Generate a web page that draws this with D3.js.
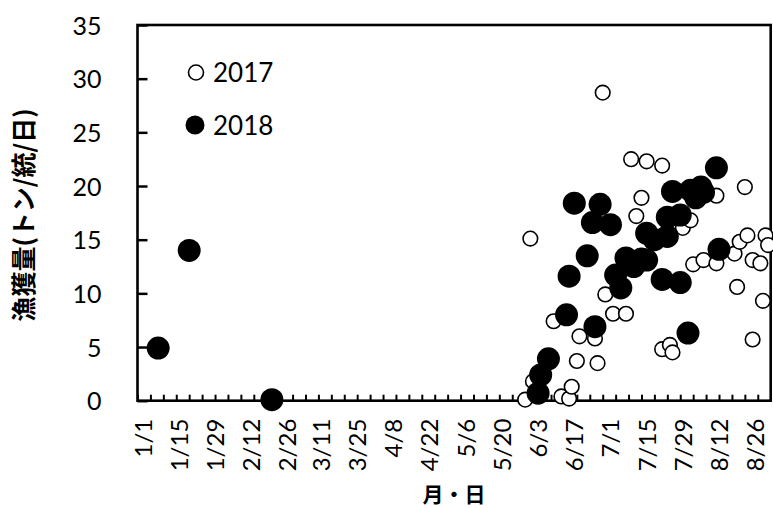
<!DOCTYPE html>
<html>
<head>
	<meta charset="utf-8">
	<title></title>
	<script src="https://d3js.org/d3.v7.min.js"></script>
	<style>
		body { margin: 0; background: #fff; }
		svg { display: block; }
		.tick text { font-family: Lato, "Noto Sans", sans-serif; fill: #000; }
		.axis .domain { display: none; }
	</style>
</head>
<body>
	<svg width="773" height="508"></svg>
<script type="text/javascript">

// 2017 catches (open circles), month/day and tonnes per unit per day
var dates2017 = ["5/29","5/31","6/1","6/9","6/12","6/15","6/16","6/18","6/19","6/25","6/26","6/28","6/29","7/2","7/7","7/9","7/11","7/13","7/15","7/21","7/21","7/24","7/25","7/29","8/1","8/2","8/6","8/11","8/11","8/18","8/19","8/20","8/22","8/23","8/25","8/25","8/28","8/29","8/30","8/31"];
var catch2017 = [0.1,15.1,1.8,7.4,0.4,0.2,1.3,3.7,6.0,5.8,3.5,28.7,9.9,8.1,8.1,22.5,17.2,18.9,22.3,21.9,4.8,5.2,4.5,16.1,16.8,12.7,13.1,19.1,12.8,13.7,10.6,14.8,19.9,15.4,13.1,5.7,12.8,9.3,15.4,14.5];

// 2018 catches (filled circles)
var dates2018 = ["1/7","1/19","2/20","6/3","6/4","6/7","6/14","6/15","6/17","6/22","6/24","6/25","6/27","7/1","7/3","7/5","7/7","7/10","7/13","7/15","7/15","7/18","7/21","7/23","7/23","7/25","7/28","7/28","7/31","8/1","8/3","8/5","8/6","8/11","8/12"];
var catch2018 = [4.9,14.0,0.1,0.7,2.4,3.9,8.0,11.6,18.4,13.5,16.6,6.9,18.3,16.4,11.7,10.5,13.3,12.5,13.2,13.1,15.6,15.0,11.3,15.3,17.1,19.5,11.0,17.3,6.3,19.6,18.9,19.9,19.4,21.7,14.1];

var tickLabels = ["1/1","1/15","1/29","2/12","2/26","3/11","3/25","4/8","4/22","5/6","5/20","6/3","6/17","7/1","7/15","7/29","8/12","8/26"];
var yTicks = [0,5,10,15,20,25,30,35];
var seriesNames = ["2017", "2018"];

function md(s) {
	var p = s.split("/");
	return new Date(Date.UTC(2018, +p[0] - 1, +p[1]));
}

var svg = d3.select("svg");
const margin = {left: 137.5, right: 770.7, top: 25, bottom: 400.7};

var x = d3.scaleUtc()
	.domain([new Date(Date.UTC(2017, 11, 30)), new Date(Date.UTC(2018, 8, 1))])
	.range([margin.left, margin.right]);
var y = d3.scaleLinear()
	.domain([0, 35])
	.range([margin.bottom, margin.top]);

// minor ticks every 5 days, pointing inside
var minor = d3.utcDay.range(x.domain()[0], x.domain()[1], 1).filter(function(d, i) { return i % 5 == 0; });
svg.append("g")
	.attr("class", "axis")
	.attr("transform", "translate(0," + margin.bottom + ")")
	.call(d3.axisBottom(x).tickValues(minor).tickSize(-6).tickFormat(""))
	.selectAll("line").attr("stroke", "#000").attr("stroke-width", 2);

// date labels every 14 days, rotated
var xLab = svg.append("g")
	.attr("class", "axis")
	.attr("transform", "translate(0," + (margin.bottom + 18) + ")")
	.call(d3.axisBottom(x).tickValues(tickLabels.map(md)).tickSize(0)
		.tickFormat(function(d, i) { return tickLabels[i]; }));
xLab.selectAll("text")
	.attr("font-size", 24)
	.attr("transform", "rotate(-90)")
	.attr("text-anchor", "end")
	.attr("x", 0)
	.attr("y", 0)
	.attr("dy", "0.35em");

var yAxis = svg.append("g")
	.attr("class", "axis")
	.attr("transform", "translate(" + margin.left + ",0)")
	.call(d3.axisLeft(y).tickValues(yTicks).tickSize(-10).tickPadding(36));
yAxis.selectAll("line").attr("stroke", "#000").attr("stroke-width", 2.5);
yAxis.selectAll("text").attr("font-size", 25).attr("dy", "0.36em");

// frame
svg.append("rect")
	.attr("x", margin.left)
	.attr("y", margin.top)
	.attr("width", margin.right - margin.left)
	.attr("height", margin.bottom - margin.top)
	.attr("fill", "none")
	.attr("stroke", "#000")
	.attr("stroke-width", 2.6);

var pts2017 = dates2017.map(function(d, i) { return {date: md(d), v: catch2017[i]}; });
var pts2018 = dates2018.map(function(d, i) { return {date: md(d), v: catch2018[i]}; });

svg.append("g").selectAll("circle")
	.data(pts2017)
	.enter().append("circle")
	.attr("cx", function(d) { return x(d.date); })
	.attr("cy", function(d) { return y(d.v); })
	.attr("r", 7.3)
	.attr("fill", "#fff")
	.attr("stroke", "#000")
	.attr("stroke-width", 1.6);

svg.append("g").selectAll("circle")
	.data(pts2018)
	.enter().append("circle")
	.attr("cx", function(d) { return x(d.date); })
	.attr("cy", function(d) { return y(d.v); })
	.attr("r", 11.5)
	.attr("fill", "#000");

// legend
var legend = svg.append("g")
	.attr("font-family", "Lato, 'Noto Sans', sans-serif")
	.attr("font-size", 26);
legend.append("circle").attr("cx", 196).attr("cy", 72.5).attr("r", 7.5)
	.attr("fill", "#fff").attr("stroke", "#000").attr("stroke-width", 1.6);
legend.append("text").attr("x", 213).attr("y", 82).text(seriesNames[0]);
legend.append("circle").attr("cx", 195).attr("cy", 125).attr("r", 9.5)
	.attr("fill", "#000");
legend.append("text").attr("x", 213).attr("y", 135).text(seriesNames[1]);

// axis titles
svg.append("text")
	.attr("transform", "translate(33,215) rotate(-90)")
	.attr("text-anchor", "middle")
	.attr("font-family", "'Noto Sans CJK JP', sans-serif")
	.attr("font-weight", "bold")
	.attr("font-size", 25)
	.text("漁獲量(トン/統/日)");

svg.append("text")
	.attr("x", (margin.left + margin.right) / 2)
	.attr("y", 502)
	.attr("text-anchor", "middle")
	.attr("font-family", "'Noto Sans CJK JP', sans-serif")
	.attr("font-weight", "bold")
	.attr("font-size", 21)
	.text("月・日");

</script>
</body>
</html>
